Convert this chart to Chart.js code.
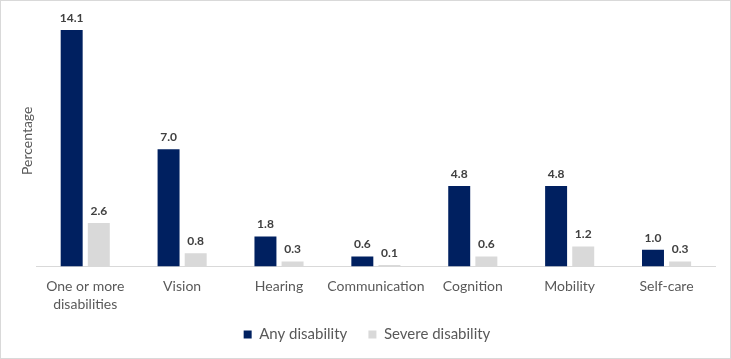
<!DOCTYPE html>
<html>
<head>
<meta charset="utf-8">
<script src="https://cdn.jsdelivr.net/npm/chart.js@4/dist/chart.umd.min.js"></script>
<style>
  html, body { margin: 0; padding: 0; background: #fff; }
  .box { width: 729px; height: 357px; border: 1px solid #d9d9d9; }
</style>
</head>
<body>
<div class="box"><canvas id="myChart" width="729" height="357"></canvas></div>
<script>
var categories = [["One or more", "disabilities"], "Vision", "Hearing", "Communication", "Cognition", "Mobility", "Self-care"];
var anyDisability = [14.1, 7.0, 1.8, 0.6, 4.8, 4.8, 1.0];
var severeDisability = [2.6, 0.8, 0.3, 0.1, 0.6, 1.2, 0.3];

// draws the value above each bar
var valueLabels = {
    id: 'valueLabels',
    afterDatasetsDraw: function (chart) {
        var c = chart.ctx;
        c.save();
        c.font = 'bold 12px Lato';
        c.fillStyle = '#404040';
        c.textAlign = 'center';
        c.textBaseline = 'bottom';
        chart.data.datasets.forEach(function (ds, i) {
            chart.getDatasetMeta(i).data.forEach(function (bar, j) {
                c.fillText(ds.data[j].toFixed(1), bar.x, bar.y - 6);
            });
        });
        c.restore();
    }
};

var ctx = document.getElementById("myChart");
var myChart = new Chart(ctx, {
    type: 'bar',
    data: {
        labels: categories,
        datasets: [
            {
                label: "Any disability",
                backgroundColor: "#002060",
                data: anyDisability,
                categoryPercentage: 0.56,
                barPercentage: 0.81
            },
            {
                label: "Severe disability",
                backgroundColor: "#d9d9d9",
                data: severeDisability,
                categoryPercentage: 0.56,
                barPercentage: 0.81
            }
        ]
    },
    plugins: [valueLabels],
    options: {
        responsive: false,
        animation: false,
        layout: { padding: { left: 18, right: 15, top: 14, bottom: 6 } },
        plugins: {
            tooltip: { enabled: false },
            legend: {
                position: 'bottom',
                labels: {
                    color: '#595959',
                    font: { family: 'Lato', size: 15 },
                    boxWidth: 8,
                    boxHeight: 8,
                    padding: 2,
                    generateLabels: function (chart) {
                        var items = Chart.defaults.plugins.legend.labels.generateLabels(chart);
                        // extra room between the two legend entries
                        items[0].text += '     ';
                        return items;
                    }
                }
            }
        },
        scales: {
            x: {
                grid: { display: false, drawTicks: false },
                border: { color: '#d9d9d9', width: 1 },
                ticks: {
                    color: '#595959',
                    font: { family: 'Lato', size: 14, lineHeight: 1.3 },
                    padding: 11,
                    maxRotation: 0,
                    autoSkip: false
                }
            },
            y: {
                min: 0,
                max: 15,
                grid: { display: false, drawTicks: false },
                border: { display: false },
                ticks: { display: false },
                title: {
                    display: true,
                    text: 'Percentage',
                    color: '#595959',
                    font: { family: 'Lato', size: 14 },
                    padding: { top: 0, bottom: 1 }
                }
            }
        }
    }
});
</script>
</body>
</html>
